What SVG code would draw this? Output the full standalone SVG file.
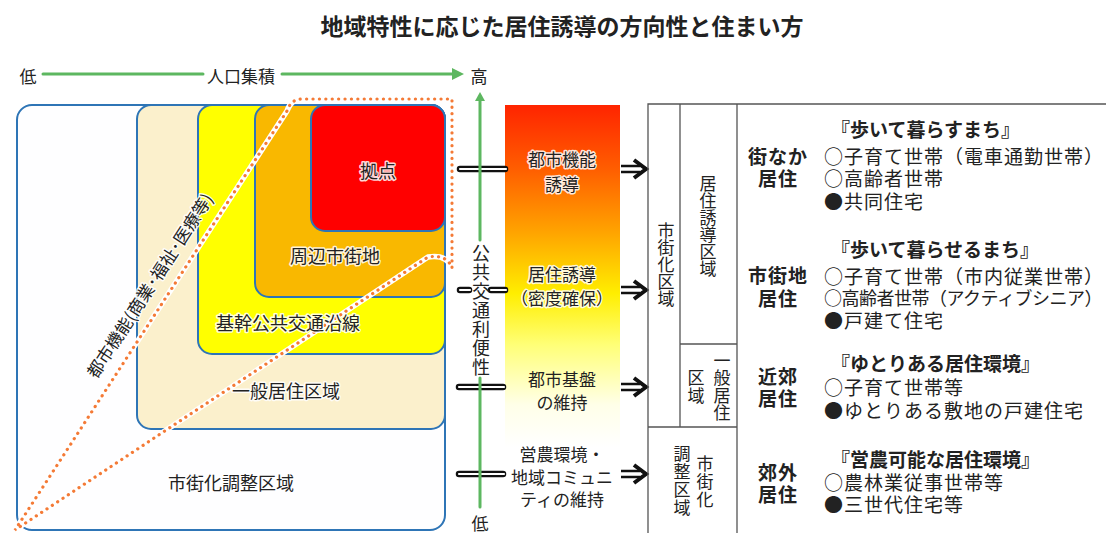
<svg xmlns="http://www.w3.org/2000/svg" width="1106" height="533" viewBox="0 0 1106 533">
<style>
.t{font-family:"Noto Sans CJK JP","Noto Sans",sans-serif;fill:#222;}
.m{text-anchor:middle;dominant-baseline:central;}
.s{dominant-baseline:central;}
.v{writing-mode:vertical-rl;text-anchor:middle;}
.b{font-weight:bold;}
.r{font-size:19px;letter-spacing:1px;}
.halo{stroke:#fff;stroke-width:3;stroke-linejoin:round;paint-order:stroke;stroke-opacity:0.85;}
.box{stroke:#2E75B6;stroke-width:2;}
.tbl{stroke:#555;stroke-width:1.3;fill:none;}
.gl{stroke:#5DB760;stroke-width:3;fill:none;stroke-linecap:round;}
.dbo{stroke:#111;stroke-width:6.5;stroke-linecap:round;fill:none;}
.dbi{stroke:#fff;stroke-width:2.2;stroke-linecap:round;fill:none;}
.arl{stroke:#111;stroke-width:2.6;fill:none;}
.arh{stroke:#111;stroke-width:4;fill:none;stroke-linejoin:miter;}
</style>
<defs>
<linearGradient id="grad" x1="0" y1="0" x2="0" y2="1">
<stop offset="0" stop-color="#FF2400"/>
<stop offset="0.15" stop-color="#FF5E00"/>
<stop offset="0.3" stop-color="#FFA500"/>
<stop offset="0.44" stop-color="#FFEE00"/>
<stop offset="0.56" stop-color="#FFFF77"/>
<stop offset="0.7" stop-color="#FFFFE8"/>
<stop offset="0.8" stop-color="#FFFFFF"/>
</linearGradient>
<g id="arr">
<path class="arl" d="M621,-3 H640 M621,3 H640"/>
<path class="arh" d="M634,-9 L646,0 L634,9"/>
</g>
</defs>
<rect width="1106" height="533" fill="#fff"/>

<text class="t m b" x="562" y="25" font-size="23">地域特性に応じた居住誘導の方向性と住まい方</text>

<g id="axis-pop">
<text class="t m" x="28" y="75" font-size="17">低</text>
<line class="gl" x1="43" y1="74" x2="203" y2="74"/>
<text class="t m" x="241" y="75" font-size="17">人口集積</text>
<line class="gl" x1="282" y1="74" x2="455" y2="74"/>
<polygon points="452,68 464,74 452,80" fill="#5DB760"/>
<text class="t m" x="479" y="75" font-size="17">高</text>
</g>

<g id="node-chosei">
<rect class="box" x="17" y="105" width="428" height="425" rx="15" fill="#FEFEFF"/>
<text class="t m" x="231" y="482" font-size="18">市街化調整区域</text>
</g>
<g id="node-ippan">
<rect class="box" x="137" y="105" width="308" height="324" rx="14" fill="#FBF0CC"/>
</g>
<g id="node-kikan">
<rect class="box" x="198" y="105" width="247" height="249" rx="14" fill="#FFFF00"/>
</g>
<g id="node-shuhen">
<rect class="box" x="255" y="105" width="190" height="192" rx="14" fill="#F9B800"/>
</g>
<g id="node-kyoten">
<rect class="box" x="311" y="105" width="134" height="126" rx="14" fill="#FF0000"/>
</g>

<g id="toshi-kino-zone">
<path d="M15,530 L287,111 Q291,99 302,99 H452 V268 Q447,254 428,257 Z" fill="none" stroke="#fff" stroke-width="5.5" stroke-linejoin="round"/>
<path d="M15,530 L287,111 Q291,99 302,99 H452 V268 Q447,254 428,257 Z" fill="none" stroke="#F47A36" stroke-width="3.2" stroke-linecap="round" stroke-dasharray="0.1 6.3"/>
<text class="t m halo" transform="translate(149,285) rotate(-57)" font-size="17">都市機能(商業･福祉･医療等)</text>
</g>

<g id="labels-left">
<text class="t m halo" x="378" y="170" font-size="18">拠点</text>
<text class="t m halo" x="335" y="255" font-size="18">周辺市街地</text>
<text class="t m halo" x="288" y="322" font-size="18">基幹公共交通沿線</text>
<text class="t m halo" x="286" y="390" font-size="18">一般居住区域</text>
</g>

<g id="node-gradient">
<rect x="505" y="105" width="115" height="428" fill="url(#grad)"/>
</g>

<g id="connectors">
<line class="dbo" x1="460" y1="169" x2="505" y2="169"/><line class="dbi" x1="460" y1="169" x2="506" y2="169"/>
<line class="dbo" x1="460" y1="290" x2="469" y2="290"/><line class="dbi" x1="460" y1="290" x2="470" y2="290"/>
<line class="dbo" x1="491" y1="290" x2="505" y2="290"/><line class="dbi" x1="491" y1="290" x2="506" y2="290"/>
<line class="dbo" x1="459" y1="387" x2="503" y2="387"/><line class="dbi" x1="459" y1="387" x2="504" y2="387"/>
<line class="dbo" x1="459" y1="474" x2="503" y2="474"/><line class="dbi" x1="459" y1="474" x2="504" y2="474"/>
<use href="#arr" transform="translate(0,169)"/>
<use href="#arr" transform="translate(0,290)"/>
<use href="#arr" transform="translate(0,387)"/>
<use href="#arr" transform="translate(0,474)"/>
</g>

<g id="axis-transit">
<line class="gl" x1="480" y1="99" x2="480" y2="240"/>
<polygon points="475,101 480,92 485,101" fill="#5DB760"/>
<line class="gl" x1="480" y1="378" x2="480" y2="507"/>
<text class="t v" x="481" y="311" font-size="18" letter-spacing="1">公共交通利便性</text>
<text class="t m" x="480" y="522" font-size="17">低</text>
</g>

<g id="policy-texts">
<text class="t m halo" x="562" y="158" font-size="17">都市機能</text>
<text class="t m halo" x="562" y="183" font-size="17">誘導</text>
<text class="t m halo" x="562" y="273" font-size="17">居住誘導</text>
<text class="t m halo" x="562" y="297" font-size="17">（密度確保）</text>
<text class="t m" x="562" y="378" font-size="17">都市基盤</text>
<text class="t m" x="562" y="401" font-size="17">の維持</text>
<text class="t m" x="562" y="453" font-size="17">営農環境・</text>
<text class="t m" x="562" y="476" font-size="17">地域コミュニ</text>
<text class="t m" x="562" y="498" font-size="17">ティの維持</text>
</g>

<g id="table-frame">
<path class="tbl" d="M648,533 V104 H1106 M680,104 V427 M737,104 V533 M648,427 H737 M680,344 H737"/>
</g>
<g id="cell-shigaika">
<text class="t v" x="666" y="265" font-size="17">市街化区域</text>
</g>
<g id="cell-kyoju-yudo">
<text class="t v" x="708" y="226" font-size="17">居住誘導区域</text>
</g>
<g id="cell-ippan">
<text class="t v" x="722" y="387" font-size="17" letter-spacing="0.5">一般居住</text>
<text class="t v" x="696" y="387" font-size="17" letter-spacing="0.5">区域</text>
</g>
<g id="cell-chosei">
<text class="t v" x="705" y="482" font-size="17" letter-spacing="1">市街化</text>
<text class="t v" x="682" y="481" font-size="17" letter-spacing="1">調整区域</text>
</g>

<g id="row-machinaka">
<text class="t s b" x="831" y="128" font-size="19">『歩いて暮らすまち』</text>
<text class="t m b r" x="778" y="155">街なか</text>
<text class="t m b r" x="778" y="177">居住</text>
<text class="t s r" x="824" y="155">○子育て世帯（電車通勤世帯）</text>
<text class="t s r" x="824" y="177">○高齢者世帯</text>
<text class="t s r" x="824" y="200">●共同住宅</text>
</g>
<g id="row-shigaichi">
<text class="t s b" x="831" y="248" font-size="19">『歩いて暮らせるまち』</text>
<text class="t m b r" x="778" y="274">市街地</text>
<text class="t m b r" x="778" y="297">居住</text>
<text class="t s r" x="824" y="275">○子育て世帯（市内従業世帯）</text>
<text class="t s" x="824" y="297" font-size="18" letter-spacing="-0.5">○高齢者世帯（アクティブシニア）</text>
<text class="t s r" x="824" y="319">●戸建て住宅</text>
</g>
<g id="row-kinko">
<text class="t s b" x="831" y="362" font-size="19">『ゆとりある居住環境』</text>
<text class="t m b r" x="778" y="375">近郊</text>
<text class="t m b r" x="778" y="397">居住</text>
<text class="t s r" x="824" y="386">○子育て世帯等</text>
<text class="t s r" x="824" y="409">●ゆとりある敷地の戸建住宅</text>
</g>
<g id="row-kogai">
<text class="t s b" x="831" y="458" font-size="19">『営農可能な居住環境』</text>
<text class="t m b r" x="778" y="471">郊外</text>
<text class="t m b r" x="778" y="493">居住</text>
<text class="t s r" x="824" y="481">○農林業従事世帯等</text>
<text class="t s r" x="824" y="503">●三世代住宅等</text>
</g>
</svg>
